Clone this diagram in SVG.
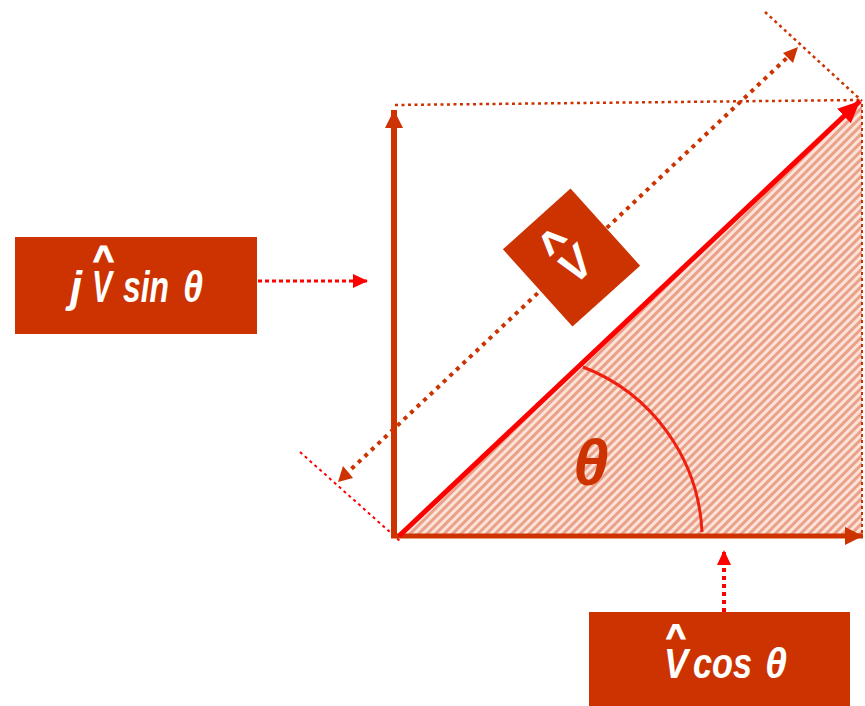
<svg xmlns="http://www.w3.org/2000/svg" width="865" height="706" viewBox="0 0 865 706">
<style>
.lbl{font-family:"Liberation Sans",Arial,sans-serif;font-weight:bold;font-style:italic;fill:#ffffff}
.cap{font-family:"Liberation Sans",Arial,sans-serif;font-weight:bold;font-style:normal;fill:#ffffff;stroke:#ffffff;stroke-width:1.2}
.box{fill:#CC3300}
.dotbrown{fill:none;stroke:#CC3300;stroke-width:2.5;stroke-dasharray:3 3.5}
.dotred{fill:none;stroke:#FF0000;stroke-width:2;stroke-dasharray:3 3.5}
</style>
<defs>
<pattern id="hatch" patternUnits="userSpaceOnUse" width="6" height="6" patternTransform="rotate(45)">
<rect width="6" height="6" fill="#FBE3DA"/>
<rect width="3" height="6" fill="#E9A18A"/>
</pattern>
<marker id="headBrown" markerUnits="userSpaceOnUse" markerWidth="22" markerHeight="22" refX="18" refY="10" orient="auto">
<path d="M0,1 L18,10 L0,19 Z" fill="#CC3300"/>
</marker>
<marker id="headRedBig" markerUnits="userSpaceOnUse" markerWidth="26" markerHeight="26" refX="22" refY="12" orient="auto">
<path d="M0,2 L22,12 L0,22 Z" fill="#FF0000"/>
</marker>
<marker id="headRedSmall" markerUnits="userSpaceOnUse" markerWidth="18" markerHeight="18" refX="15" refY="8" orient="auto">
<path d="M0,1 L15,8 L0,15 Z" fill="#FF0000"/>
</marker>
</defs>

<g id="triangle">
<polygon points="397,537 862,102 862,537" fill="url(#hatch)"/>
<line x1="862" y1="104" x2="862" y2="537" stroke="#CC3300" stroke-width="2" stroke-dasharray="3 3"/>
<path d="M583,367 A186,186 0 0 1 702,532" fill="none" stroke="#F02010" stroke-width="3"/>
<text x="573" y="485" font-family="Liberation Sans, Arial, sans-serif" font-weight="bold" font-style="italic" font-size="64" fill="#CC3300">θ</text>
</g>

<g id="connectors">
<line class="dotbrown" x1="395" y1="105" x2="860" y2="100"/>
<line class="dotbrown" x1="765" y1="12" x2="862" y2="101"/>
<line class="dotred" x1="300" y1="452" x2="400" y2="541"/>
<line x1="345" y1="475" x2="790" y2="55" stroke="#CC3300" stroke-width="4" stroke-dasharray="4 5" fill="none"/>
<path d="M338,482 L343,466 L353,478 Z" fill="#CC3300"/>
<path d="M798,47 L783,53 L793,63 Z" fill="#CC3300"/>
<line x1="394" y1="537" x2="394" y2="110" stroke="#CC3300" stroke-width="6" marker-end="url(#headBrown)"/>
<line x1="391" y1="536" x2="863" y2="536" stroke="#CC3300" stroke-width="5" marker-end="url(#headBrown)"/>
<line x1="399" y1="536" x2="860" y2="101" stroke="#FF0000" stroke-width="5" marker-end="url(#headRedBig)"/>
<line x1="258" y1="281" x2="368" y2="281" stroke="#FF0000" stroke-width="3" stroke-dasharray="4 3" marker-end="url(#headRedSmall)"/>
<line x1="724" y1="612" x2="724" y2="550" stroke="#FF0000" stroke-width="4" stroke-dasharray="4 4" marker-end="url(#headRedSmall)"/>
</g>

<g id="label-v">
<rect class="box" x="-45.5" y="-52" width="91" height="104" transform="translate(571.5,257.5) rotate(-42)"/>
<text class="lbl" font-size="44" text-anchor="middle" transform="translate(565,254) rotate(-45)"><tspan class="cap" x="0" y="2">^</tspan><tspan x="0" y="30">V</tspan></text>
</g>

<g id="label-jvsin">
<rect class="box" x="15" y="237" width="242" height="97"/>
<text class="lbl" font-size="44"><tspan class="cap" x="103.5" y="271" font-size="36" text-anchor="middle">^</tspan><tspan x="70" y="302" textLength="12" lengthAdjust="spacingAndGlyphs">j</tspan><tspan x="92" y="302" textLength="20" lengthAdjust="spacingAndGlyphs">V</tspan><tspan x="123" y="302" textLength="46" lengthAdjust="spacingAndGlyphs">sin</tspan><tspan x="183" y="302" textLength="20" lengthAdjust="spacingAndGlyphs">θ</tspan></text>
</g>

<g id="label-vcos">
<rect class="box" x="589" y="612" width="261" height="94"/>
<text class="lbl" font-size="43"><tspan class="cap" x="676" y="647" font-size="34" text-anchor="middle">^</tspan><tspan x="664" y="678" textLength="24" lengthAdjust="spacingAndGlyphs">V</tspan><tspan x="693" y="678" textLength="59" lengthAdjust="spacingAndGlyphs">cos</tspan><tspan x="765" y="678" textLength="22" lengthAdjust="spacingAndGlyphs">θ</tspan></text>
</g>
</svg>
